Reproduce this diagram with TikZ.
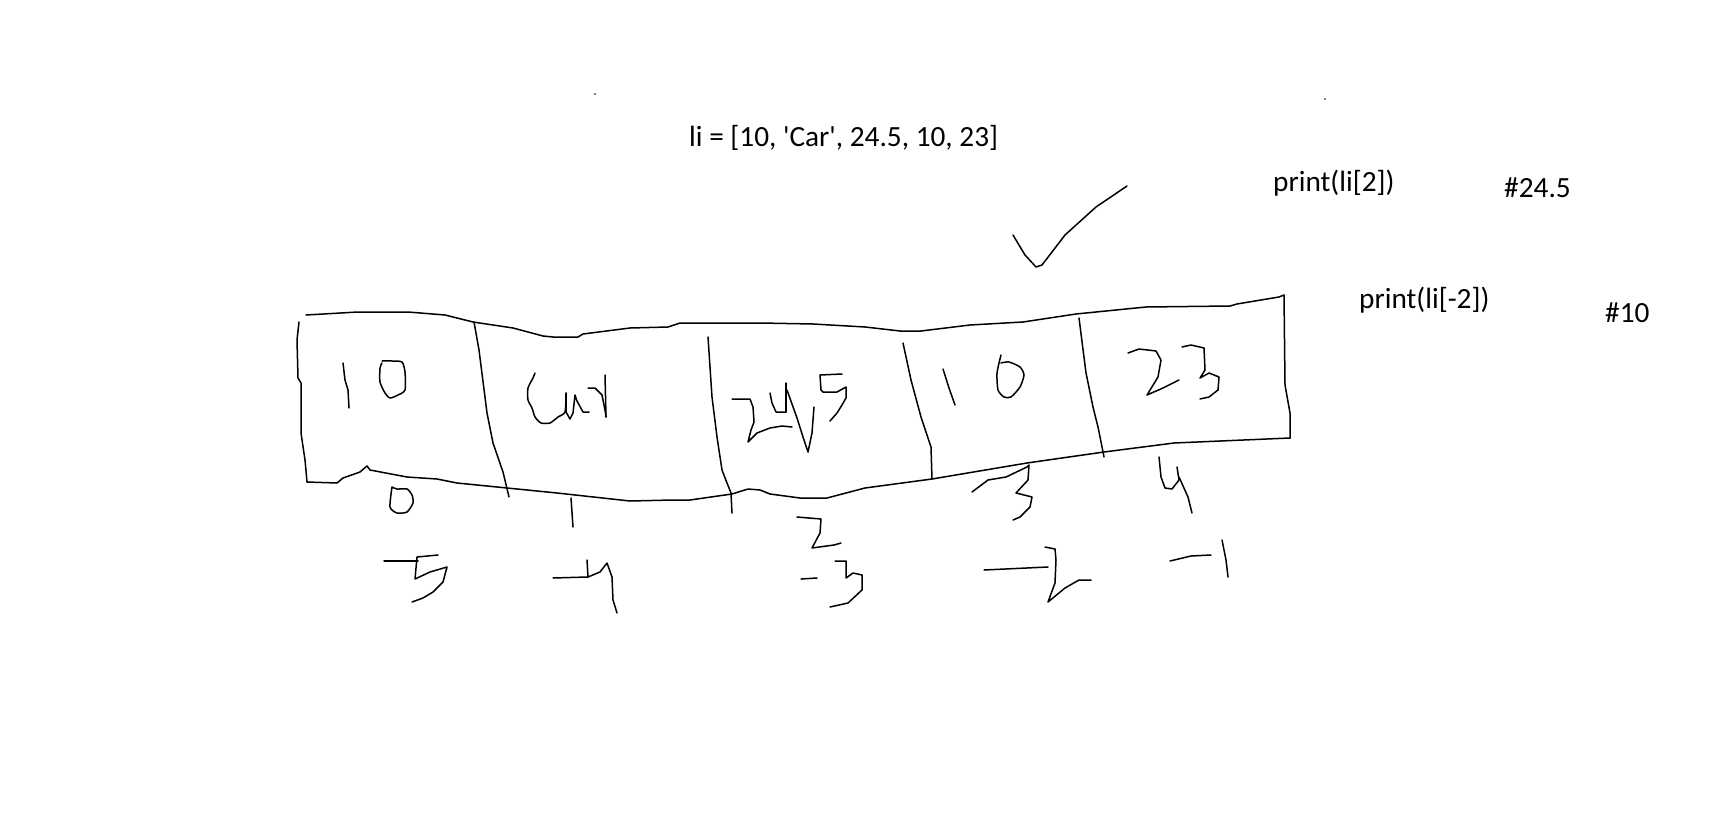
\documentclass[tikz,border=0pt]{standalone}
\usepackage{fontspec}
\setmainfont{Carlito}
\begin{document}
\begin{tikzpicture}[x=1pt,y=-1pt,
  ink/.style={line width=1.5pt, line join=round, line cap=round},
  lbl/.style={font=\fontsize{29.3}{34}\selectfont, anchor=base west, inner sep=0pt}]
\useasboundingbox (0,0) rectangle (1715,829);
\fill[white] (0,0) rectangle (1715,829);
% texts
\node[lbl] (code) at (689,147) {li = [10, \textquotesingle Car\textquotesingle, 24.5, 10, 23]};
\node[lbl] (p1) at (1273,192) {print(li[2])};
\node[lbl] (r1) at (1504,197) {\#24.5};
\node[lbl] (p2) at (1359,308) {print(li[-2])};
\node[lbl] (r2) at (1605,322) {\#10};
% stray dots
\fill (595,94) circle (0.9);
\fill (1325,99) circle (0.9);
% check mark
\draw[ink] plot coordinates {(1013,235) (1025,255) (1036,267) (1042,265) (1065,235) (1096,207) (1127,186)};
% outline: top
\draw[ink] plot coordinates {(306,315) (358,312) (408,312) (445,315) (473,322) (513,328) (543,336) (553,337) (578,337) (583,334) (630,328) (668,327) (680,323) (713,323) (760,323) (813,324) (865,327) (900,331) (921,331) (970,325) (1023,322) (1076,314) (1146,307) (1230,306) (1237,304) (1279,297) (1284,295)};
% right
\draw[ink] plot coordinates {(1284,295) (1285,385) (1290,413) (1290,438)};
% bottom
\draw[ink] plot coordinates {(1290,438) (1174,443) (1104,452) (1027,463) (932,479) (865,488) (827,498) (800,498) (770,494) (760,490) (748,489) (732,494) (690,500) (673,500) (630,501) (557,493) (507,488) (457,483) (437,479) (407,477) (370,470) (367,466) (360,472) (343,478) (337,483) (307,482)};
% left
\draw[ink] plot coordinates {(299,322) (297,340) (298,378) (301,383) (301,433) (305,460) (307,482)};
% dividers
\draw[ink] plot coordinates {(474,322) (479,350) (487,413) (493,443) (503,472) (509,497)};
\draw[ink] plot coordinates {(708,337) (712,397) (717,437) (722,470) (727,483) (731,493) (732,513)};
\draw[ink] plot coordinates {(903,343) (911,380) (921,417) (931,447) (932,479)};
\draw[ink] plot coordinates {(1079,318) (1086,373) (1093,407) (1098,427) (1104,457)};
% cell 1: 10
\draw[ink] plot coordinates {(343,363) (345,380) (348,390) (349,408)};
\draw[ink] plot[smooth, tension=0.4] coordinates {(382,361) (392,361) (402,362) (405,372) (405,390) (398,395) (390,398) (385,393) (380,382) (380,368) (382,363)};
% cell 2: Car
\draw[ink] plot[smooth, tension=0.4] coordinates {(535,373) (533,378) (528,388) (528,400) (532,408) (535,417) (541,423) (550,423) (558,417) (565,412) (566,393)};
\draw[ink] plot coordinates {(566,393) (566,412) (570,419) (573,413) (575,395) (577,401) (583,412) (589,412)};
\draw[ink] plot coordinates {(588,388) (595,388) (602,395) (605,410) (606,417)};
\draw[ink] plot coordinates {(605,375) (606,417)};
% cell 3: 24.5
\draw[ink] plot coordinates {(732,399) (750,399) (753,407) (754,422) (751,430) (748,442) (757,433) (770,428) (782,426) (792,427)};
\draw[ink] plot coordinates {(770,393) (772,403) (776,412) (786,412)};
\draw[ink] plot coordinates {(786,383) (786,412)};
\draw[ink] plot coordinates {(787,390) (797,418) (803,437) (808,452) (812,433) (814,407)};
\draw[ink] plot coordinates {(842,374) (820,375) (821,390) (823,392) (837,392) (846,387) (846,398) (842,405) (837,413) (830,421)};
% cell 4: 10
\draw[ink] plot coordinates {(943,369) (949,388) (955,405)};
\draw[ink] plot[smooth, tension=0.4] coordinates {(1001,355) (997,373) (998,390) (1004,397) (1011,397) (1020,387) (1024,375) (1020,367) (1009,362) (1001,363)};
% cell 5: 23
\draw[ink] plot coordinates {(1128,353) (1139,349) (1156,351) (1161,360) (1158,377) (1147,395) (1163,388) (1179,380)};
\draw[ink] plot coordinates {(1182,347) (1191,345) (1204,348) (1205,370) (1200,378) (1209,373) (1219,377) (1218,390) (1209,397) (1200,399)};
% positive indices
\draw[ink] plot[smooth, tension=0.4] coordinates {(392,487) (390,507) (397,513) (407,512) (413,503) (412,495) (407,489) (397,489) (392,487)};
\draw[ink] plot coordinates {(571,498) (573,527)};
\draw[ink] plot coordinates {(797,517) (821,519) (820,533) (812,548) (834,545) (841,543)};
\draw[ink] plot coordinates {(972,492) (988,480) (1006,477) (1027,467) (1029,465) (1028,480) (1016,493) (1032,497) (1030,507) (1020,517) (1013,520)};
\draw[ink] plot coordinates {(1159,457) (1161,477) (1165,488) (1172,489) (1179,480) (1177,467)};
\draw[ink] plot coordinates {(1179,477) (1188,497) (1192,513)};
% negative indices
\draw[ink] plot coordinates {(384,561) (418,561)};
\draw[ink] plot coordinates {(438,555) (417,557) (415,579) (430,572) (447,567) (443,582) (433,592) (423,598) (412,602)};
\draw[ink] plot coordinates {(553,578) (588,577)};
\draw[ink] plot coordinates {(587,560) (588,577) (600,572) (607,563) (612,577) (613,600) (617,613)};
\draw[ink] plot coordinates {(801,579) (817,578)};
\draw[ink] plot coordinates {(835,561) (846,561) (846,578) (853,573) (862,575) (862,590) (848,603) (830,607)};
\draw[ink] plot coordinates {(984,570) (1048,567)};
\draw[ink] plot coordinates {(1045,547) (1055,549) (1056,560) (1055,583) (1048,602) (1065,588) (1079,580) (1091,580)};
\draw[ink] plot coordinates {(1170,561) (1191,556) (1211,555)};
\draw[ink] plot coordinates {(1222,540) (1226,560) (1228,577)};
\end{tikzpicture}
\end{document}
